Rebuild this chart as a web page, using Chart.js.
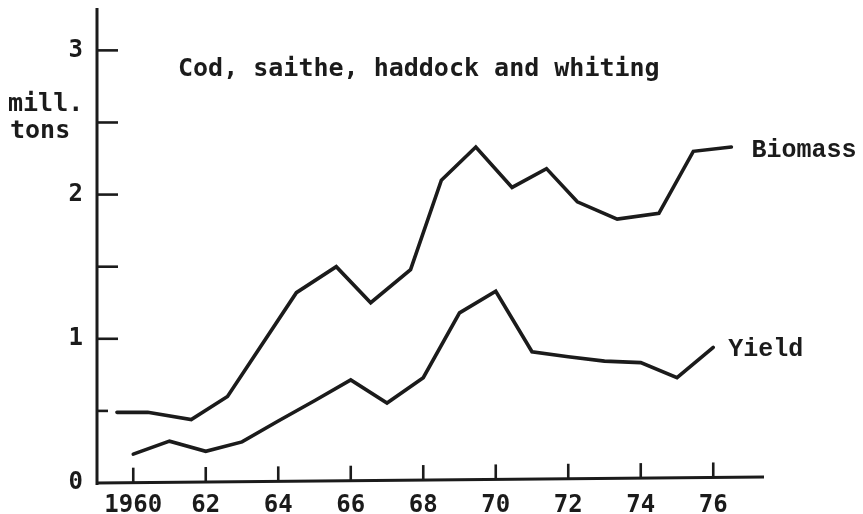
<!DOCTYPE html>
<html>
<head>
<meta charset="utf-8">
<script src="https://cdn.jsdelivr.net/npm/chart.js@4/dist/chart.umd.min.js"></script>
<style>
  html, body { margin: 0; padding: 0; background: #ffffff; }
  #wrap { width: 863px; height: 514px; }
</style>
</head>
<body>
<div id="wrap"><canvas id="c" width="863" height="514"></canvas></div>
<script>
// Biomass of the four gadoid stocks (million tons), plotted at mid-year positions
const biomassYears = [1959.55, 1960.4, 1961.6, 1962.6, 1964.5, 1965.6, 1966.55, 1967.65, 1968.5,
                      1969.45, 1970.45, 1971.4, 1972.25, 1973.35, 1974.5, 1975.45, 1976.5];
const biomass      = [0.49, 0.49, 0.44, 0.60, 1.32, 1.50, 1.25, 1.48, 2.10,
                      2.33, 2.05, 2.18, 1.95, 1.83, 1.87, 2.30, 2.33];

// Yearly yield (million tons)
const yieldYears = [1960, 1961, 1962, 1963, 1964, 1965, 1966, 1967, 1968,
                    1969, 1970, 1971, 1972, 1973, 1974, 1975, 1976];
const yieldTons  = [0.20, 0.29, 0.22, 0.285, 0.43, 0.57, 0.715, 0.555, 0.73,
                    1.18, 1.33, 0.91, 0.875, 0.845, 0.835, 0.73, 0.94];

// Axis ticks
const xTickYears  = [1960, 1962, 1964, 1966, 1968, 1970, 1972, 1974, 1976];
const xTickLabels = ['1960', '62', '64', '66', '68', '70', '72', '74', '76'];
const yTickLabels = [0, 1, 2, 3];
const yTickMarks  = [0.5, 1, 1.5, 2, 2.5, 3];

const seriesNames = ['Biomass', 'Yield'];
const titleText = 'Cod, saithe, haddock and whiting';
const unitLines = ['mill.', 'tons'];

const INK = '#1b1b1b';
const monoSans = 'bold 25px "DejaVu Sans Mono", monospace';
const monoSerif = 'bold 25px "Liberation Mono", "Courier New", monospace';
const AXIS_SLOPE = 6; // the baseline drops slightly to the left, as drawn by hand

const pairs = (xs, ys) => xs.map((x, i) => ({ x: x, y: ys[i] }));

// Hand-drawn style axes: heavy axis lines with inward tick marks
const axesPlugin = {
  id: 'axes',
  afterDatasetsDraw(chart) {
    const { ctx, chartArea, scales } = chart;
    const xs = scales.x, ys = scales.y;
    const x0 = chartArea.left, y0 = chartArea.bottom;
    const baseAt = px => y0 - AXIS_SLOPE * (px - x0) / (chartArea.right - x0);
    ctx.save();
    ctx.strokeStyle = INK;
    ctx.lineCap = 'butt';
    ctx.lineWidth = 3;
    // y axis
    ctx.beginPath();
    ctx.moveTo(x0, chartArea.top - 2);
    ctx.lineTo(x0, y0 + 2);
    ctx.stroke();
    // x axis
    ctx.beginPath();
    ctx.moveTo(x0 - 1, y0);
    ctx.lineTo(chartArea.right, baseAt(chartArea.right));
    ctx.stroke();
    // y tick marks
    ctx.lineWidth = 2.6;
    yTickMarks.forEach(v => {
      const py = ys.getPixelForValue(v);
      const len = v === 0.5 ? 11 : 21;
      ctx.beginPath();
      ctx.moveTo(x0, py);
      ctx.lineTo(x0 + len, py);
      ctx.stroke();
    });
    // x tick marks
    xTickYears.forEach(v => {
      const px = xs.getPixelForValue(v);
      const base = baseAt(px);
      ctx.beginPath();
      ctx.moveTo(px, base);
      ctx.lineTo(px, base - 15);
      ctx.stroke();
    });
    ctx.restore();
  }
};

// Title, unit label and series names
const textPlugin = {
  id: 'texts',
  afterDraw(chart) {
    const { ctx } = chart;
    ctx.save();
    ctx.fillStyle = INK;
    ctx.textBaseline = 'alphabetic';
    ctx.textAlign = 'left';
    ctx.font = monoSans;
    ctx.fillText(titleText, 178, 76);
    ctx.fillText(unitLines[0], 8, 111);
    ctx.fillText(unitLines[1], 10, 138);

    ctx.font = monoSerif;
    ctx.textBaseline = 'middle';
    chart.data.datasets.forEach((ds, i) => {
      const meta = chart.getDatasetMeta(i);
      const last = meta.data[meta.data.length - 1];
      ctx.fillText(seriesNames[i], last.x + (i === 0 ? 20 : 15), last.y + (i === 0 ? 4 : 2));
    });
    ctx.restore();
  }
};

new Chart(document.getElementById('c'), {
  type: 'line',
  data: {
    datasets: [
      { label: seriesNames[0], data: pairs(biomassYears, biomass) },
      { label: seriesNames[1], data: pairs(yieldYears, yieldTons) }
    ]
  },
  options: {
    responsive: false,
    animation: false,
    devicePixelRatio: 1,
    layout: { padding: { top: 10, right: 99, left: 0, bottom: 0 } },
    elements: {
      line: { borderColor: INK, borderWidth: 3.6, tension: 0, fill: false,
              borderCapStyle: 'round', borderJoinStyle: 'miter' },
      point: { radius: 0, hoverRadius: 0 }
    },
    plugins: {
      legend: { display: false },
      tooltip: { enabled: false },
      title: { display: false }
    },
    scales: {
      x: {
        type: 'linear',
        min: 1959,
        max: 1977.4,
        afterFit: s => { s.height = 31; s.paddingLeft = 0; s.paddingRight = 0; },
        afterBuildTicks: s => { s.ticks = xTickYears.map(v => ({ value: v })); },
        grid: { display: false, drawTicks: false },
        border: { display: false },
        ticks: {
          autoSkip: false,
          maxRotation: 0,
          padding: 8,
          color: INK,
          font: { family: '"DejaVu Sans Mono", monospace', size: 24, weight: 'bold' },
          callback: v => xTickLabels[xTickYears.indexOf(v)]
        }
      },
      y: {
        type: 'linear',
        min: 0,
        max: 3.28,
        afterFit: s => { s.width = 97; s.paddingTop = 0; s.paddingBottom = 0; },
        afterBuildTicks: s => { s.ticks = yTickLabels.map(v => ({ value: v })); },
        grid: { display: false, drawTicks: false },
        border: { display: false },
        ticks: {
          padding: 14,
          color: INK,
          font: { family: '"DejaVu Sans Mono", monospace', size: 24, weight: 'bold' },
          callback: v => String(v)
        }
      }
    }
  },
  plugins: [axesPlugin, textPlugin]
});
</script>
</body>
</html>
